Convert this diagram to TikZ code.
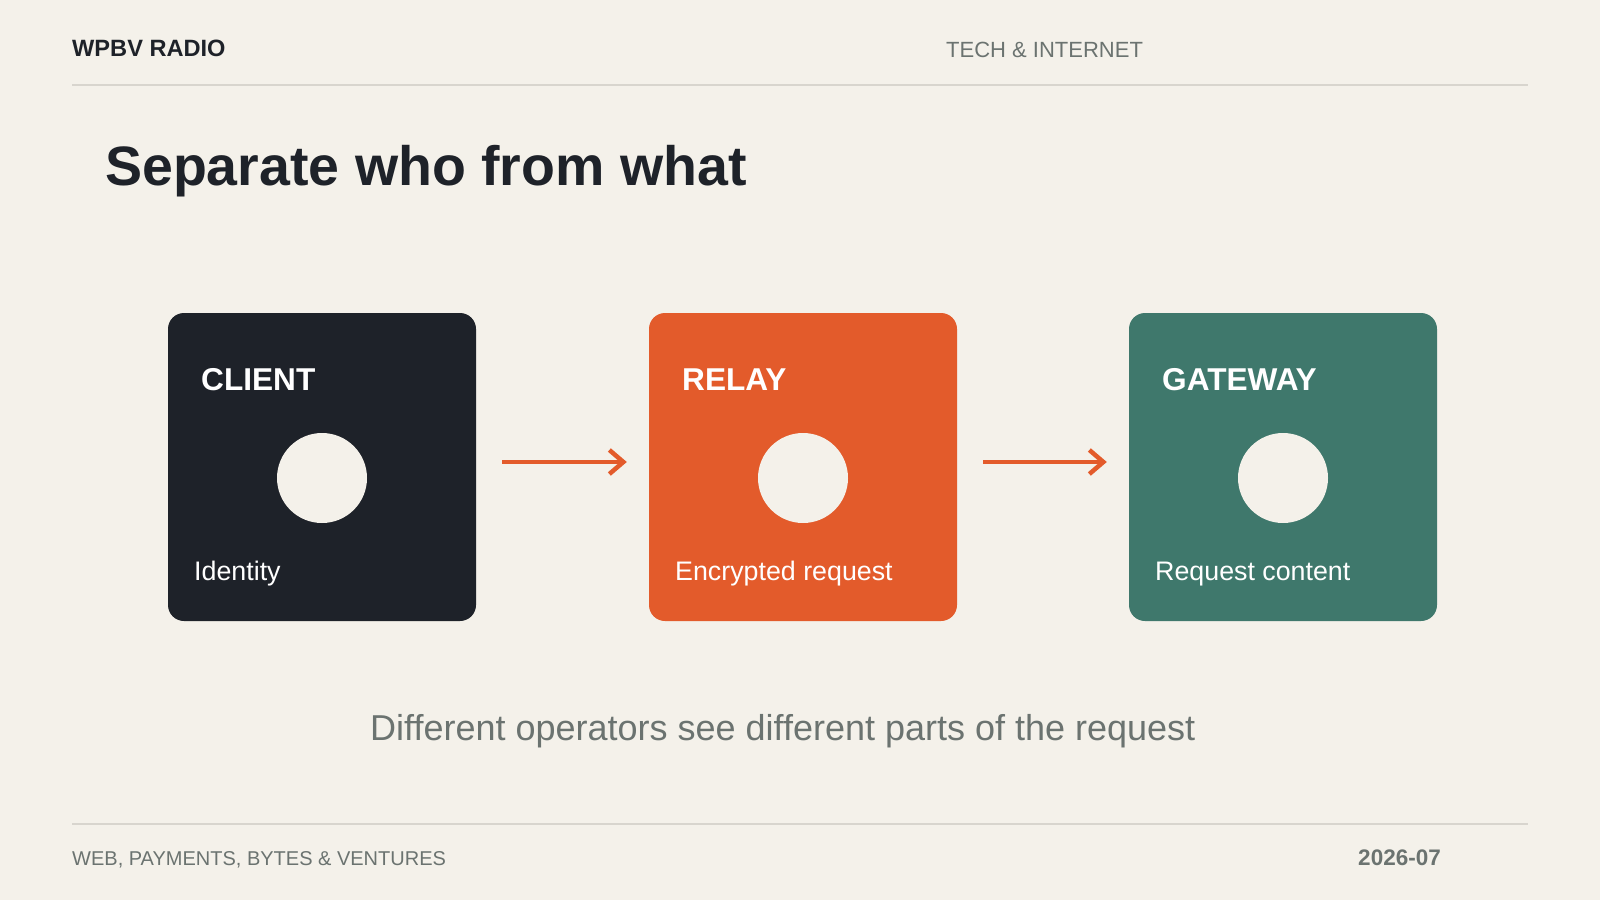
\documentclass[tikz,border=0pt]{standalone}
\usepackage{fontspec}
\setmainfont{Liberation Sans}
\usetikzlibrary{arrows.meta}
\definecolor{bg}{HTML}{F4F1EA}
\definecolor{ink}{HTML}{1E2229}
\definecolor{muted}{HTML}{6B7370}
\definecolor{rule}{HTML}{D8D5CE}
\definecolor{orange}{HTML}{E35B2B}
\definecolor{teal}{HTML}{3F786C}
\tikzset{
  txt/.style={inner sep=0pt, anchor=base west},
  card/.style={draw=none, rounded corners=16pt, minimum width=308pt, minimum height=308pt, inner sep=0pt},
  dot/.style={circle, fill=bg, minimum size=90pt, inner sep=0pt},
  cardtitle/.style={txt, text=white, font=\fontsize{31.6}{36}\selectfont\bfseries},
  cardlabel/.style={txt, text=white, font=\fontsize{26.8}{30}\selectfont},
  flow/.style={draw=orange, line width=4pt, -{Straight Barb[length=14pt,width=24pt,line width=4.5pt]}, shorten <=26pt, shorten >=22pt},
  hrule/.style={draw=rule, line width=2pt}
}
\begin{document}
\begin{tikzpicture}[x=1pt,y=-1pt]
\fill[bg] (0,0) rectangle (1600,900);
\useasboundingbox (0,0) rectangle (1600,900);
% header
\node[txt, text=ink, font=\fontsize{23.6}{26}\selectfont\bfseries] (brand) at (72,56) {WPBV RADIO};
\node[txt, text=muted, font=\fontsize{22}{26}\selectfont] (topic) at (946,57) {TECH \& INTERNET};
\coordinate (hl) at (72,85);
\coordinate (hr) at (1528,85);
\draw[hrule] (hl) -- (hr);
% title
\node[txt, text=ink, font=\fontsize{55.5}{62}\selectfont\bfseries] (title) at (105,185) {Separate who from what};
% cards
\node[card, fill=ink] (client) at (322,467) {};
\node[card, fill=orange] (relay) at (803,467) {};
\node[card, fill=teal] (gateway) at (1283,467) {};
\node[dot] (cdot) at (322,478) {};
\node[dot] (rdot) at (803,478) {};
\node[dot] (gdot) at (1283,478) {};
\node[cardtitle] (ct) at (201,390) {CLIENT};
\node[cardtitle] (rt) at (682,390) {RELAY};
\node[cardtitle] (gt) at (1162,390) {GATEWAY};
\node[cardlabel] (cl) at (194,580) {Identity};
\node[cardlabel] (rl) at (675,580) {Encrypted request};
\node[cardlabel] (gl) at (1155,580) {Request content};
% arrows
\draw[flow] ([yshift=5pt]client.east) -- ([yshift=5pt]relay.west);
\draw[flow] ([yshift=5pt]relay.east) -- ([yshift=5pt]gateway.west);
% subtitle
\node[txt, text=muted, font=\fontsize{36}{42}\selectfont] (sub) at (370,740) {Different operators see different parts of the request};
% footer
\coordinate (fl) at (72,824);
\coordinate (fr) at (1528,824);
\draw[hrule] (fl) -- (fr);
\node[txt, text=muted, font=\fontsize{20}{24}\selectfont] (foot) at (72,865) {WEB, PAYMENTS, BYTES \& VENTURES};
\node[inner sep=0pt, anchor=base east, text=muted, font=\fontsize{22.5}{24}\selectfont\bfseries] (date) at (1441,865) {2026-07};
\end{tikzpicture}
\end{document}
